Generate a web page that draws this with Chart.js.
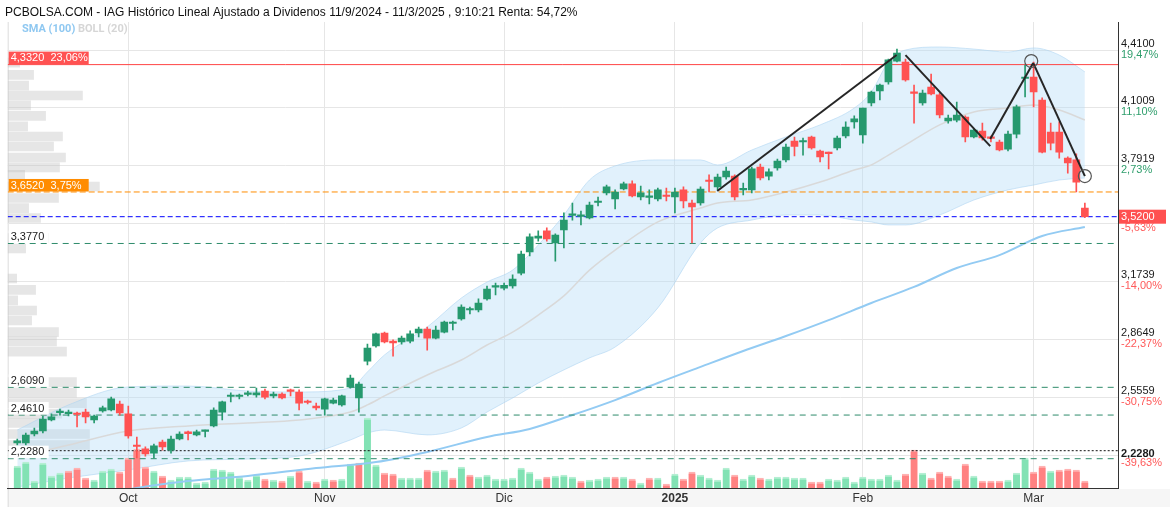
<!DOCTYPE html>
<html><head><meta charset="utf-8">
<script src="https://cdn.jsdelivr.net/npm/chart.js@4.4.1/dist/chart.umd.min.js"></script>
<style>html,body{margin:0;padding:0;background:#fff;}#wrap{width:1173px;height:512px;}</style>
</head><body><div id="wrap"><canvas id="c" width="1173" height="512"></canvas></div>
<script>
// ---- DATA (IAG, daily, 12/9/2024 .. 11/3/2025) ----
const opens  = [2.312,2.312,2.360,2.376,2.435,2.474,2.469,2.469,2.477,2.435,2.483,2.488,2.520,2.467,2.298,2.280,2.258,2.317,2.274,2.333,2.371,2.355,2.374,2.403,2.477,2.560,2.560,2.571,2.568,2.589,2.563,2.573,2.592,2.584,2.531,2.509,2.493,2.525,2.515,2.611,2.552,2.749,2.830,2.899,2.856,2.851,2.856,2.899,2.920,2.872,2.904,2.950,2.974,3.022,3.022,3.081,3.144,3.139,3.150,3.219,3.332,3.406,3.444,3.380,3.449,3.527,3.522,3.513,3.596,3.647,3.615,3.668,3.695,3.625,3.623,3.615,3.633,3.625,3.663,3.593,3.593,3.713,3.679,3.732,3.737,3.663,3.663,3.785,3.737,3.780,3.823,3.924,3.919,3.945,3.871,3.862,3.887,3.951,4.026,3.956,4.127,4.191,4.239,4.351,4.346,4.186,4.127,4.212,4.170,4.031,4.036,4.052,3.946,3.977,3.943,3.919,3.881,3.961,4.258,4.266,4.143,3.972,3.972,3.833,3.823,3.566];
const highs  = [2.333,2.365,2.392,2.456,2.467,2.493,2.488,2.477,2.493,2.461,2.509,2.557,2.536,2.509,2.344,2.291,2.306,2.328,2.349,2.371,2.376,2.381,2.381,2.499,2.536,2.579,2.573,2.589,2.605,2.600,2.584,2.579,2.600,2.595,2.541,2.525,2.552,2.552,2.568,2.675,2.637,2.840,2.899,2.904,2.862,2.883,2.910,2.931,2.931,2.936,2.963,2.963,3.049,3.038,3.081,3.150,3.166,3.166,3.209,3.337,3.428,3.444,3.460,3.428,3.540,3.593,3.550,3.598,3.625,3.689,3.663,3.705,3.711,3.684,3.663,3.673,3.673,3.673,3.679,3.609,3.679,3.743,3.748,3.785,3.743,3.700,3.785,3.801,3.775,3.828,3.908,3.945,3.940,3.951,3.876,3.865,3.951,4.026,4.058,4.100,4.191,4.228,4.362,4.415,4.362,4.223,4.196,4.282,4.180,4.063,4.132,4.058,3.988,4.020,3.951,3.929,3.977,4.116,4.330,4.346,4.154,4.020,4.026,3.839,3.855,3.593];
const lows   = [2.301,2.301,2.349,2.365,2.429,2.461,2.456,2.397,2.419,2.419,2.477,2.483,2.461,2.338,2.232,2.242,2.232,2.274,2.258,2.328,2.328,2.349,2.344,2.397,2.435,2.531,2.547,2.563,2.557,2.547,2.552,2.547,2.563,2.488,2.520,2.488,2.461,2.520,2.509,2.605,2.477,2.728,2.824,2.846,2.776,2.840,2.846,2.878,2.808,2.867,2.899,2.915,2.968,3.001,3.011,3.075,3.102,3.129,3.139,3.209,3.310,3.390,3.390,3.283,3.353,3.502,3.476,3.508,3.577,3.636,3.561,3.663,3.625,3.609,3.588,3.604,3.604,3.540,3.567,3.380,3.582,3.652,3.663,3.721,3.609,3.636,3.647,3.716,3.716,3.769,3.812,3.844,3.849,3.881,3.812,3.775,3.876,3.940,3.993,3.913,4.111,4.143,4.228,4.346,4.244,4.020,4.116,4.170,4.047,4.020,4.026,3.919,3.940,3.929,3.919,3.871,3.871,3.940,4.159,4.106,3.860,3.876,3.833,3.753,3.652,3.515];
const closes = [2.323,2.354,2.376,2.440,2.451,2.480,2.474,2.464,2.451,2.456,2.499,2.547,2.472,2.349,2.293,2.253,2.296,2.291,2.333,2.360,2.362,2.371,2.378,2.488,2.531,2.565,2.566,2.576,2.579,2.557,2.573,2.552,2.587,2.525,2.528,2.499,2.547,2.541,2.563,2.659,2.627,2.819,2.894,2.851,2.846,2.872,2.894,2.920,2.872,2.915,2.958,2.955,3.038,3.028,3.059,3.134,3.148,3.153,3.187,3.321,3.412,3.417,3.401,3.422,3.502,3.529,3.526,3.582,3.600,3.679,3.652,3.695,3.631,3.647,3.628,3.663,3.628,3.652,3.604,3.572,3.668,3.708,3.732,3.764,3.625,3.668,3.775,3.727,3.759,3.817,3.892,3.895,3.924,3.887,3.839,3.857,3.940,3.999,4.042,4.100,4.186,4.223,4.357,4.394,4.250,4.178,4.180,4.175,4.063,4.047,4.063,3.946,3.983,3.940,3.938,3.876,3.961,4.106,4.263,4.186,3.865,3.913,3.865,3.807,3.705,3.520];
// volume, millions of shares
const volumes = [11,13,3.5,12.5,6,7.5,8.5,10,5,4,8.5,9.5,8,15,19.5,10.5,8.5,6,4,5.5,5.5,2.5,3,9.5,9,8,5.5,4,6.5,4.5,4,3.5,6,8.5,3.5,3,4.5,4,4.5,12,12.5,35,11.5,7.5,7,5,5,5,9,8.5,9,5,10.5,6.5,5.5,6.5,4.5,4.5,5,10,8,4.5,5.5,6,6.5,5.5,3.5,4,4.5,5.5,5.5,5.5,4.5,2.5,5,5,2,7,4.5,8,6.5,5,4,10,6.5,4.5,6.5,5,4.5,5.5,5.5,5,5,3,3,4.5,4,5.5,3,5.5,4.5,4.5,6.5,4,7,19,7.5,5,8,6,4.5,12,6,3.5,3.5,3.5,4,7.5,15,8,11,8.5,9,9.5,9,3.5];
// month ticks (session index of first session of month)
const monthIdx    = [13,36,57,77,99,119];
const monthLabels = ['Oct','Nov','Dic','2025','Feb','Mar'];
// indicators (sampled at session indexes)
const bbIdx = [0,6,13,20,27,33,39,41,43,48,52,55,58,61,64,67,70,75,80,82,86,90,94,98,100,102,104,108,112,116,119,122,125];
const bbUpper = [2.381,2.515,2.611,2.616,2.589,2.584,2.605,2.691,2.782,2.931,3.086,3.171,3.235,3.369,3.529,3.716,3.791,3.823,3.823,3.796,3.876,3.946,4.010,4.100,4.186,4.346,4.410,4.426,4.415,4.399,4.421,4.383,4.293];
const bbMid   = [2.237,2.301,2.376,2.403,2.419,2.435,2.477,2.515,2.563,2.675,2.755,2.835,2.904,2.995,3.097,3.235,3.342,3.492,3.566,3.593,3.609,3.652,3.705,3.769,3.796,3.849,3.903,4.010,4.079,4.100,4.116,4.090,4.036];
const bbLower = [2.077,2.125,2.168,2.216,2.226,2.242,2.328,2.365,2.381,2.355,2.392,2.477,2.552,2.632,2.702,2.766,2.824,3.033,3.380,3.460,3.502,3.529,3.529,3.502,3.492,3.476,3.476,3.529,3.609,3.663,3.689,3.716,3.727];
const smaIdx = [10,14,20,27,35,42,48,55,60,65,70,75,80,85,90,95,100,105,110,115,120,125];
const sma100 = [2.034,2.072,2.109,2.136,2.178,2.210,2.264,2.344,2.387,2.461,2.541,2.632,2.718,2.803,2.883,2.968,3.059,3.145,3.246,3.315,3.417,3.465];
// volume profile (price level, relative volume)
const profPrice = [4.343,4.277,4.220,4.167,4.114,4.058,4.002,3.948,3.895,3.836,3.783,3.743,3.681,3.620,3.566,3.513,3.406,3.350,3.190,3.129,3.073,3.019,2.966,2.904,2.854,2.800,2.637,2.581,2.525,2.469,2.419,2.360,2.301];
const profVol   = [12,26,21,75,23,38,20,55,46,58,52,17,92,51,21,33,41,18,9,28,10,29,24,51,49,59,69,69,79,54,36,82,82];
// drawn trend lines
const trendX1 = [81.96,104.0,113.92,118.95];
const trendY1 = [3.657,4.383,3.935,4.341];
const trendX2 = [102.96,113.92,118.95,125.0];
const trendY2 = [4.383,3.897,4.341,3.737];
const circleX = [118.72,125.0];
const circleY = [4.351,3.737];
// horizontal levels
const levelRed = 4.332, levelOrange = 3.652, levelLast = 3.520, levelLow = 2.2707;
const levelGreen = [3.377,2.609,2.461,2.228];
const levelGreenLabels = ['3,3770','2,6090','2,4610','2,2280'];
// right axis
const gridValues = [2.2469,2.5559,2.8649,3.1739,3.4829,3.7919,4.1009,4.41];
const axisPrices = [4.41,4.1009,3.7919,3.4829,3.1739,2.8649,2.5559,2.228];
const axisPriceLabels = ['4,4100','4,1009','3,7919','','3,1739','2,8649','2,5559','2,2280'];
const axisPctLabels = ['19,47%','11,10%','2,73%','-5,63%','-14,00%','-22,37%','-30,75%','-39,63%'];

// ---- LAYOUT CONSTANTS ----
const X_MIN = -1.12, X_MAX = 128.88, Y_MIN = 2.0715, Y_MAX = 4.5595, VOL_MAX = 233;
const GREEN = '#26996e', RED = '#ff5252';
const FONT = "'Liberation Sans', Arial, sans-serif";

const N = closes.length;
const ids = closes.map((_, i) => i);
const isUp = ids.map(i => closes[i] >= opens[i]);
const volUp = ids.map(i => i === 0 ? true : closes[i] >= closes[i - 1]);

const datasets = [];
// volume profile
datasets.push({type:'bar', indexAxis:'y', xAxisID:'xp', yAxisID:'y', order:100, grouped:false,
  data: profPrice.map((p,k)=>({x: profVol[k], y: p})), barThickness: 9,
  backgroundColor:'rgba(195,195,195,0.42)', borderWidth:0});
// bollinger upper / lower fill
const upperIndex = datasets.length;
datasets.push({type:'line', order:92, xAxisID:'x', yAxisID:'y', data: bbIdx.map((x,k)=>({x, y: bbUpper[k]})),
  borderColor:'rgba(170,210,240,0.55)', borderWidth:1, pointRadius:0, fill:false, cubicInterpolationMode:'monotone'});
datasets.push({type:'line', order:91, xAxisID:'x', yAxisID:'y', data: bbIdx.map((x,k)=>({x, y: bbLower[k]})),
  borderColor:'rgba(170,210,240,0.55)', borderWidth:1, pointRadius:0, cubicInterpolationMode:'monotone',
  fill:{target: upperIndex}, backgroundColor:'rgba(180,220,248,0.4)'});
// volume
datasets.push({type:'bar', xAxisID:'x', yAxisID:'yv', order:80, grouped:false, barThickness:7,
  data: ids.map(i=>({x:i, y:volumes[i]})),
  backgroundColor: ids.map(i => volUp[i] ? '#82e2b4' : '#ff8282'),
  borderColor: ids.map(i => volUp[i] ? '#b5efd3' : '#ffb3b3'),
  borderWidth:{top:2,left:0,right:0,bottom:0}, borderSkipped:'bottom'});
// bollinger mid
datasets.push({type:'line', order:70, xAxisID:'x', yAxisID:'y', data: bbIdx.map((x,k)=>({x, y: bbMid[k]})),
  borderColor:'#d9d9d9', borderWidth:1.5, pointRadius:0, fill:false, cubicInterpolationMode:'monotone'});
// SMA 100
datasets.push({type:'line', order:60, xAxisID:'x', yAxisID:'y', data: smaIdx.map((x,k)=>({x, y: sma100[k]})),
  borderColor:'#93cbf3', borderWidth:2, pointRadius:0, fill:false, cubicInterpolationMode:'monotone'});
// horizontal levels
function hline(p, color, width, dash, order){
  datasets.push({type:'line', order, xAxisID:'x', yAxisID:'y', data:[{x:X_MIN,y:p},{x:X_MAX,y:p}],
    borderColor:color, borderWidth:width, borderDash:dash, pointRadius:0, fill:false});
}
hline(levelRed, '#ff4545', 1, [], 50);
hline(levelOrange, '#ff8c00', 1, [6,3], 50);
hline(levelLast, '#0000ff', 1, [5,3], 50);
levelGreen.forEach(p => hline(p, '#2e8b6a', 1, [6,5], 50));
hline(levelLow, '#111', 1, [2,2], 50);
// candle wicks
datasets.push({type:'bar', xAxisID:'x', yAxisID:'y', order:20, grouped:false, barThickness:1,
  data: ids.map(i=>({x:i, y:[lows[i], highs[i]]})),
  backgroundColor: ids.map(i => isUp[i] ? GREEN : RED), borderWidth:0});
// candle bodies
datasets.push({type:'bar', xAxisID:'x', yAxisID:'y', order:10, grouped:false, barThickness:7, minBarLength:1.5,
  data: ids.map(i=>({x:i, y:[opens[i], closes[i]]})),
  backgroundColor: ids.map(i => isUp[i] ? GREEN : RED), borderWidth:0});
// trend lines
trendX1.forEach((x,k)=>{
  datasets.push({type:'line', order:5, xAxisID:'x', yAxisID:'y', data:[{x, y:trendY1[k]},{x:trendX2[k], y:trendY2[k]}],
    borderColor:'#262626', borderWidth:2, pointRadius:0, fill:false});
});
datasets.push({type:'line', order:4, xAxisID:'x', yAxisID:'y', showLine:false,
  data: circleX.map((x,k)=>({x, y:circleY[k]})), pointRadius:6.5, pointBackgroundColor:'rgba(0,0,0,0)',
  pointBorderColor:'#555', pointBorderWidth:1.2});

const overlay = {
  id:'overlay',
  beforeDraw(chart){
    const {ctx, chartArea:a} = chart;
    ctx.save();
    ctx.fillStyle = '#fff'; ctx.fillRect(0,0,chart.width,chart.height);
    ctx.fillStyle = '#f6f6f6'; ctx.fillRect(a.left, a.bottom+1, chart.width - a.left - 3, 18);
    ctx.strokeStyle = '#dcdcdc'; ctx.lineWidth = 1;
    ctx.beginPath(); ctx.moveTo(a.left+0.5, a.top); ctx.lineTo(a.left+0.5, a.bottom+19); ctx.stroke();
    ctx.restore();
  },
  afterDraw(chart){
    const {ctx, chartArea:a} = chart;
    const y = chart.scales.y;
    ctx.save();
    // title
    ctx.font = '12px ' + FONT; ctx.fillStyle = '#111'; ctx.textBaseline = 'middle'; ctx.textAlign = 'left';
    ctx.fillText('PCBOLSA.COM - IAG Histórico Lineal Ajustado a Dividenos 11/9/2024 - 11/3/2025 , 9:10:21 Renta: 54,72%', 5, 12.5);
    // indicator legend
    ctx.font = 'bold 11px Roboto, ' + FONT;
    ctx.fillStyle = '#8fc8f1'; ctx.fillText('SMA (100)', 22, 29);
    const w = ctx.measureText('SMA (100) ').width;
    ctx.fillStyle = '#d6d6d6'; ctx.fillText('BOLL (20)', 22 + w, 29);
    // right axis labels
    axisPrices.forEach((p,k) => {
      const py = y.getPixelForValue(p);
      if (axisPriceLabels[k]) {
        ctx.font = (p === 2.228 ? 'bold ' : '') + '11px ' + FONT;
        ctx.fillStyle = '#1a1a1a';
        ctx.fillText(axisPriceLabels[k], a.right + 3, py - (p === 2.228 ? 5 : 6.5));
      }
      ctx.font = '11px ' + FONT;
      ctx.fillStyle = p >= 3.6913 ? '#2f9e6c' : '#ff5a5a';
      ctx.fillText(axisPctLabels[k], a.right + 3, py + 4.5);
    });
    // last price box
    const ly = y.getPixelForValue(levelLast);
    ctx.fillStyle = '#ff5050'; ctx.fillRect(a.right + 1, ly - 7, 47, 14);
    ctx.fillStyle = '#fff'; ctx.font = '11px ' + FONT;
    ctx.fillText('3,5200', a.right + 3, ly);
    // left level labels
    function box(p, txt, bg, fg, wdt){
      const py = y.getPixelForValue(p);
      ctx.fillStyle = bg; ctx.fillRect(a.left + 1, py - 13, wdt, 12.5);
      ctx.fillStyle = fg; ctx.font = '11px ' + FONT;
      ctx.fillText(txt, a.left + 3, py - 6.5);
    }
    box(levelRed, '4,3320  23,06%', '#ff5252', '#fff', 80);
    box(levelOrange, '3,6520  3,75%', '#ff8c00', '#fff', 80);
    levelGreen.forEach((p,k) => box(p, levelGreenLabels[k], '#fff', '#1a1a1a', 40));
    ctx.restore();
  }
};

new Chart(document.getElementById('c'), {
  data: { datasets },
  options: {
    responsive:false, animation:false, devicePixelRatio:1, events:[],
    layout:{padding:{top:22, right:55, bottom:3.6, left:4}},
    plugins:{legend:{display:false}, tooltip:{enabled:false}, title:{display:false}},
    scales:{
      x:{type:'linear', position:'bottom', min:X_MIN, max:X_MAX, offset:false,
        grid:{color:'#e6e6e6', drawTicks:false, offset:false}, border:{color:'#333'},
        afterBuildTicks: s => { s.ticks = monthIdx.map(v => ({value:v})); },
        ticks:{autoSkip:false, maxRotation:0, padding:3, color:'#333',
          font: c => ({family: FONT, size: 12, weight: (c.tick && c.tick.label === '2025') ? 'bold' : 'normal'}),
          callback: v => monthLabels[monthIdx.indexOf(v)] }},
      y:{type:'linear', position:'right', min:Y_MIN, max:Y_MAX, offset:false,
        grid:{color:'#e6e6e6', drawTicks:false, offset:false}, border:{color:'#333'},
        afterBuildTicks: s => { s.ticks = gridValues.map(v => ({value:v})); },
        ticks:{display:false}},
      yv:{type:'linear', display:false, min:0, max:VOL_MAX, offset:false},
      xp:{type:'linear', axis:'x', display:false, min:0, max:1114, offset:false}
    }
  },
  plugins:[overlay]
});
</script>
</body></html>
